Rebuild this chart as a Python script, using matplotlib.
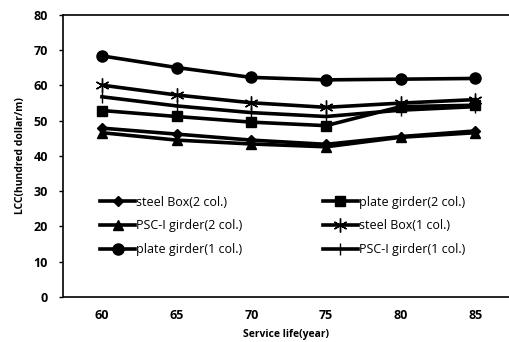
import matplotlib
matplotlib.use("Agg")
import matplotlib.pyplot as plt

plt.rcParams['font.family'] = ['Open Sans', 'DejaVu Sans']

years = ["60", "65", "70", "75", "80", "85"]
steel_box_2 = [47.9, 46.2, 44.5, 43.3, 45.5, 47.1]
plate_girder_2 = [52.9, 51.2, 49.6, 48.6, 54.0, 54.4]
psc_i_2 = [46.6, 44.5, 43.4, 42.6, 45.3, 46.6]
steel_box_1 = [60.1, 57.3, 55.1, 53.8, 55.0, 56.0]
plate_girder_1 = [68.4, 65.1, 62.3, 61.6, 61.8, 62.0]
psc_i_1 = [56.8, 54.2, 52.3, 51.2, 53.0, 54.0]
labels = ["steel Box(2 col.)", "plate girder(2 col.)", "PSC-I girder(2 col.)",
          "steel Box(1 col.)", "plate girder(1 col.)", "PSC-I girder(1 col.)"]
y_ticks = [0, 10, 20, 30, 40, 50, 60, 70, 80]

fig = plt.figure(figsize=(5.09, 3.42), dpi=100)
ax = fig.add_axes([0.124, 0.132, 0.876, 0.824])
x = list(range(len(years)))
series = [steel_box_2, plate_girder_2, psc_i_2, steel_box_1, plate_girder_1, psc_i_1]
styles = [
    dict(marker='D', ms=5),
    dict(marker='s', ms=7),
    dict(marker='^', ms=7),
    dict(marker=(6, 2, 0), ms=10, mew=1.0),
    dict(marker='o', ms=8),
    dict(marker='|', ms=9, mew=1.0),
]
handles = []
for s, lab, st in zip(series, labels, styles):
    h, = ax.plot(x, s, color='black', lw=2.6, label=lab, **st)
    handles.append(h)

ax.set_xlim(-0.52, 5.45)
ax.set_ylim(0, 80)
ax.set_xticks(x)
ax.set_xticklabels(years, fontsize=9, fontweight='bold')
ax.set_yticks(y_ticks)
ax.set_yticklabels([str(v) for v in y_ticks], fontsize=9, fontweight='bold')
ax.tick_params(axis='x', length=0, pad=9)
ax.tick_params(axis='y', length=3, width=1, direction='out', pad=8)
for sp in ['left', 'bottom']:
    ax.spines[sp].set_linewidth(1.2)
ax.spines['right'].set_visible(False)
ax.spines['top'].set_linewidth(1.2)
ax.set_xlabel("Service life(year)", fontsize=7.5, fontweight='bold', labelpad=5)
ax.set_ylabel("LCC(hundred dollar/m)", fontsize=7.5, fontweight='bold', labelpad=5)

order = [0, 2, 4, 1, 3, 5]
leg = ax.legend([handles[i] for i in order], [labels[i] for i in order],
                ncol=2, loc='center left', bbox_to_anchor=(0.083, 0.252), frameon=False,
                fontsize=9, handlelength=2.8, handletextpad=0.1, columnspacing=6.4,
                labelspacing=0.85, borderaxespad=0, borderpad=0)

fig.savefig("out.png", dpi=100)
